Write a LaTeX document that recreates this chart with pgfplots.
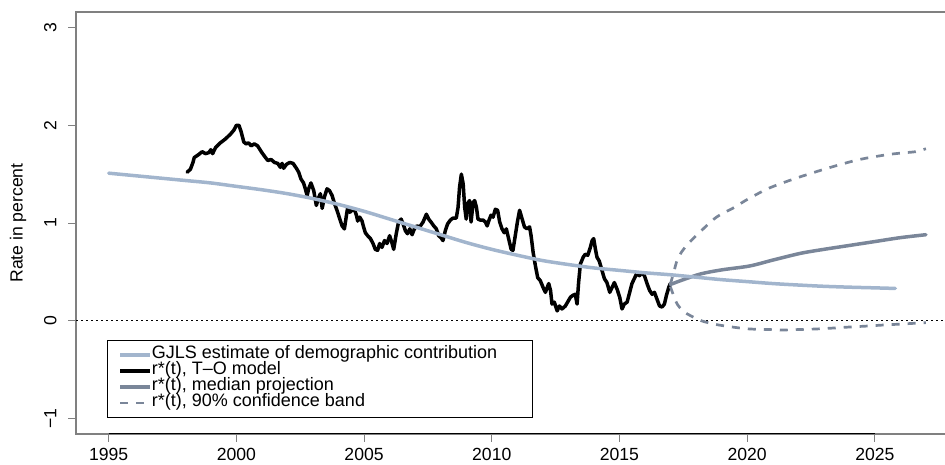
\documentclass[border=0pt]{standalone}
\usepackage{pgfplots}
\pgfplotsset{compat=1.18}
\usepackage{fontspec}
\setmainfont{Liberation Sans}
\definecolor{gjls}{HTML}{A2B5CD}
\definecolor{proj}{HTML}{7A8699}
\definecolor{boxgray}{HTML}{808080}
\pgfplotstableread{
x y
1995.0 1.51
1996.0 1.485
1997.0 1.46
1998.0 1.435
1999.0 1.41
2000.0 1.375
2001.0 1.34
2002.0 1.30
2003.0 1.25
2004.0 1.19
2005.0 1.12
2006.0 1.04
2007.0 0.96
2008.0 0.88
2009.0 0.80
2010.0 0.73
2011.0 0.67
2012.0 0.615
2013.0 0.575
2014.0 0.54
2015.0 0.515
2016.0 0.49
2017.0 0.47
2018.0 0.445
2019.0 0.42
2020.0 0.40
2021.0 0.38
2022.0 0.365
2023.0 0.352
2024.0 0.343
2025.0 0.336
2025.8 0.33
}\gjlsdata
\pgfplotstableread{
x y
1998.07 1.52
1998.2 1.55
1998.3 1.62
1998.35 1.67
1998.52 1.70
1998.66 1.73
1998.79 1.71
1998.92 1.72
1999.0 1.75
1999.07 1.71
1999.18 1.77
1999.37 1.82
1999.57 1.86
1999.77 1.91
1999.9 1.95
2000.0 2.00
2000.1 2.00
2000.18 1.94
2000.29 1.83
2000.38 1.81
2000.48 1.82
2000.58 1.79
2000.7 1.81
2000.83 1.79
2001.0 1.72
2001.14 1.67
2001.23 1.64
2001.36 1.65
2001.49 1.62
2001.62 1.61
2001.72 1.57
2001.79 1.61
2001.85 1.56
2001.96 1.60
2002.09 1.62
2002.22 1.61
2002.35 1.56
2002.44 1.52
2002.53 1.45
2002.63 1.41
2002.7 1.35
2002.77 1.28
2002.83 1.35
2002.92 1.41
2003.03 1.33
2003.13 1.18
2003.22 1.26
2003.29 1.30
2003.36 1.15
2003.45 1.27
2003.55 1.35
2003.65 1.33
2003.75 1.28
2003.84 1.20
2003.94 1.13
2004.05 1.04
2004.14 0.97
2004.23 0.94
2004.31 1.08
2004.36 1.16
2004.44 1.11
2004.53 1.13
2004.62 1.14
2004.7 1.08
2004.75 1.02
2004.83 1.06
2004.92 1.02
2004.98 0.96
2005.05 0.90
2005.14 0.87
2005.25 0.84
2005.35 0.79
2005.44 0.73
2005.53 0.72
2005.61 0.79
2005.7 0.75
2005.8 0.82
2005.9 0.79
2006.0 0.87
2006.1 0.79
2006.16 0.73
2006.26 0.89
2006.35 1.01
2006.45 1.04
2006.53 0.99
2006.62 0.92
2006.7 0.89
2006.79 0.94
2006.88 0.88
2006.97 0.94
2007.07 0.97
2007.18 0.96
2007.31 1.01
2007.44 1.09
2007.53 1.04
2007.62 1.01
2007.73 0.97
2007.83 0.94
2007.92 0.87
2008.01 0.85
2008.09 0.82
2008.18 0.92
2008.27 0.99
2008.38 1.03
2008.48 1.05
2008.61 1.05
2008.68 1.16
2008.74 1.37
2008.81 1.50
2008.88 1.40
2008.94 1.16
2009.0 1.04
2009.06 1.20
2009.13 1.23
2009.19 1.01
2009.27 1.21
2009.33 1.23
2009.4 1.16
2009.46 1.04
2009.55 1.03
2009.66 1.03
2009.75 1.01
2009.82 0.97
2009.88 1.02
2009.97 1.08
2010.05 1.06
2010.14 1.14
2010.23 1.13
2010.31 1.01
2010.4 0.94
2010.49 0.90
2010.57 0.94
2010.66 0.84
2010.76 0.73
2010.83 0.72
2010.92 0.87
2011.01 1.02
2011.09 1.13
2011.19 1.04
2011.28 0.96
2011.38 0.94
2011.48 0.96
2011.54 0.87
2011.62 0.70
2011.71 0.56
2011.8 0.44
2011.9 0.41
2012.01 0.34
2012.1 0.29
2012.23 0.38
2012.3 0.31
2012.36 0.17
2012.45 0.19
2012.56 0.10
2012.65 0.15
2012.75 0.12
2012.88 0.15
2012.97 0.19
2013.08 0.24
2013.18 0.26
2013.27 0.27
2013.34 0.17
2013.4 0.39
2013.47 0.58
2013.58 0.65
2013.66 0.68
2013.76 0.67
2013.86 0.75
2013.93 0.82
2013.99 0.84
2014.06 0.73
2014.12 0.65
2014.21 0.61
2014.32 0.51
2014.41 0.43
2014.51 0.39
2014.62 0.29
2014.71 0.34
2014.8 0.39
2014.91 0.32
2015.01 0.24
2015.1 0.12
2015.19 0.17
2015.3 0.19
2015.4 0.29
2015.49 0.38
2015.58 0.43
2015.69 0.49
2015.78 0.46
2015.88 0.49
2015.98 0.46
2016.08 0.38
2016.18 0.31
2016.28 0.27
2016.37 0.29
2016.47 0.22
2016.57 0.15
2016.67 0.14
2016.76 0.17
2016.84 0.26
2016.93 0.34
2016.99 0.38
}\todata
\pgfplotstableread{
x y
2016.99 0.37
2017.5 0.42
2018.2 0.48
2019.0 0.52
2020.1 0.56
2021.0 0.62
2022.1 0.69
2023.0 0.73
2024.0 0.77
2025.0 0.81
2026.0 0.85
2027.0 0.88
}\meddata
\pgfplotstableread{
x y
2016.99 0.37
2017.13 0.50
2017.26 0.62
2017.45 0.71
2017.7 0.79
2018.2 0.92
2018.8 1.06
2019.5 1.16
2020.0 1.24
2020.8 1.35
2021.6 1.43
2022.4 1.50
2023.4 1.58
2024.4 1.65
2025.5 1.70
2026.2 1.72
2026.6 1.73
2027.0 1.76
}\updata
\pgfplotstableread{
x y
2016.99 0.35
2017.13 0.25
2017.26 0.17
2017.45 0.11
2017.65 0.07
2018.2 0.0
2018.8 -0.04
2019.5 -0.068
2020.1 -0.085
2020.8 -0.09
2021.4 -0.095
2022.1 -0.09
2022.7 -0.085
2023.4 -0.075
2024.0 -0.065
2024.7 -0.055
2025.3 -0.045
2026.0 -0.035
2027.0 -0.02
}\lowdata
\begin{document}
\begin{tikzpicture}[x=1pt,y=1pt]
\useasboundingbox (0,0) rectangle (945,465);
\begin{axis}[
  at={(76pt,31pt)}, anchor=south west,
  scale only axis, width=882.6pt, height=422pt,
  xmin=1993.72, xmax=2028.28, ymin=-1.16, ymax=3.16,
  axis line style={boxgray, line width=1.2pt},
  xtick={1995,2000,2005,2010,2015,2020,2025},
  xticklabels={1995,2000,2005,2010,2015,2020,2025},
  ytick={-1,0,1,2,3}, yticklabels={−1,0,1,2,3},
  xtick pos=bottom, ytick pos=left,
  tick align=outside, major tick length=8pt,
  tick style={boxgray, line width=0.9pt},
  tick label style={font=\fontsize{17.6}{20}\selectfont, black},
  xticklabel style={yshift=-3pt},
  yticklabel style={rotate=90, anchor=south, yshift=8pt},
  ylabel={Rate in percent},
  every axis y label/.style={at={(axis description cs:-0.0657,0.5)}, rotate=90, anchor=center, font=\fontsize{17.6}{20}\selectfont},
  legend style={at={(0.0351,0.2227)}, anchor=north west, draw=black, line width=0.9pt,
    font=\fontsize{18}{18}\selectfont, inner xsep=11pt, inner ysep=6.5pt,
    nodes={inner sep=0pt, text height=12pt, text depth=4pt},
    row sep=0pt, cells={anchor=west},
    /tikz/every even column/.append style={column sep=4pt}},
  legend image code/.code={\draw[#1] (0pt,0pt) -- (30pt,0pt);},
  clip=true,
]
\addlegendimage{gjls, line width=3.5pt}
\addlegendentry{GJLS estimate of demographic contribution\hspace*{24pt}}
\addlegendimage{black, line width=3.5pt}
\addlegendentry{r*(t), T–O model}
\addlegendimage{proj, line width=3.5pt}
\addlegendentry{r*(t), median projection}
\addlegendimage{proj, line width=2.7pt, dash pattern=on 8pt off 8pt}
\addlegendentry{r*(t), 90\% confidence band}

\addplot[forget plot, black, line width=0.9pt, dash pattern=on 2pt off 3pt] coordinates {(1990,0) (2030,0)};
\addplot[forget plot, black, line width=3.5pt, line join=round, line cap=round] table {\todata};
\addplot[forget plot, proj, line width=3.5pt, smooth, line cap=round] table {\meddata};
\addplot[forget plot, proj, line width=2.7pt, smooth, dash pattern=on 8pt off 8pt] table {\updata};
\addplot[forget plot, proj, line width=2.7pt, smooth, dash pattern=on 8pt off 8pt] table {\lowdata};
\addplot[forget plot, gjls, line width=3.5pt, smooth, line cap=round] table {\gjlsdata};
\draw[black, line width=1pt] (axis cs:1995,-1.16) -- (axis cs:2025,-1.16);
\end{axis}
\end{tikzpicture}
\end{document}
